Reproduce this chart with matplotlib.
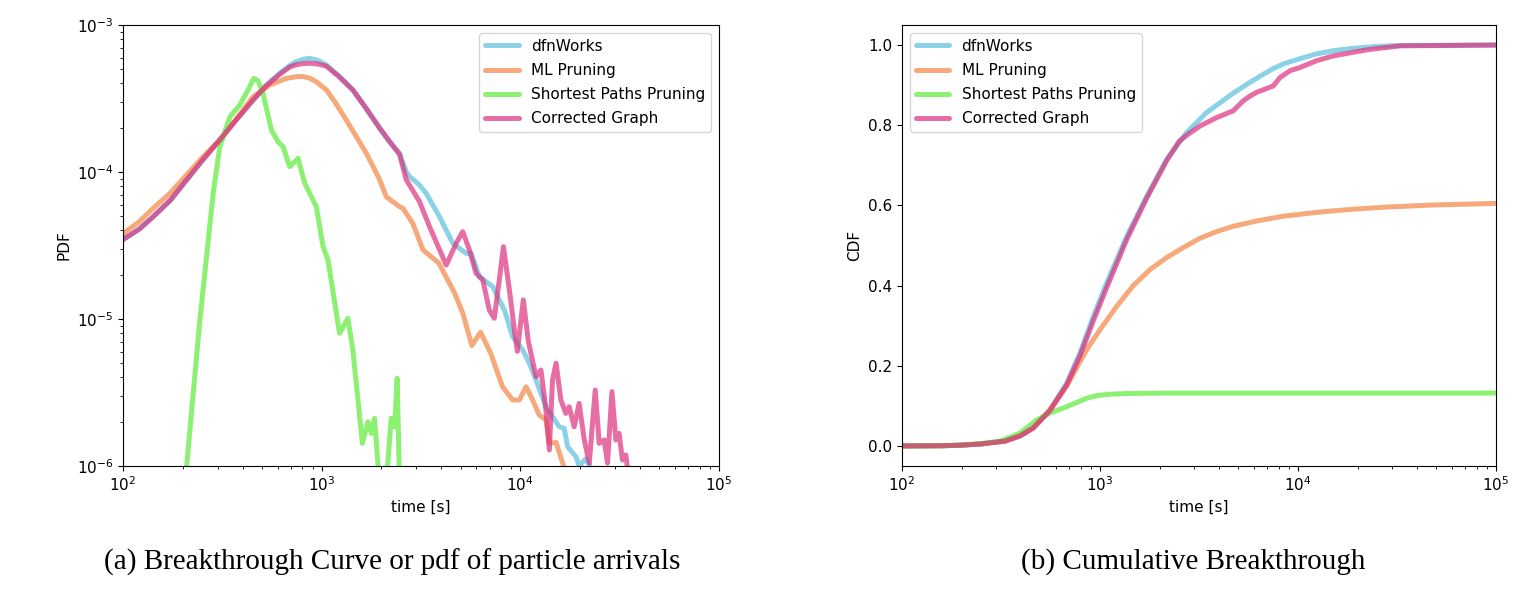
import numpy as np
import matplotlib
matplotlib.use("Agg")
import matplotlib.pyplot as plt

# ---------------- data (log10 values) ----------------
series_names = ["dfnWorks", "ML Pruning", "Shortest Paths Pruning", "Corrected Graph"]

# PDF panel: log10(time [s]) and log10(PDF)
pdf_dfn_lt = [2.0, 2.08, 2.152, 2.24, 2.32, 2.40, 2.487, 2.57, 2.655, 2.72, 2.789, 2.84, 2.873, 2.91, 2.94,
              2.98, 3.024, 3.09, 3.157, 3.22, 3.291, 3.34, 3.392,
              3.426, 3.442, 3.492, 3.526, 3.593, 3.66, 3.727, 3.752, 3.794, 3.861, 3.886, 3.92,
              3.961, 4.012, 4.045, 4.079, 4.129, 4.162, 4.196, 4.221, 4.238, 4.28, 4.296, 4.33,
              4.37, 4.40]
pdf_dfn_lp = [-4.46, -4.39, -4.304, -4.19, -4.054, -3.92, -3.782, -3.645, -3.51, -3.41, -3.329, -3.275, -3.249, -3.232, -3.227,
              -3.24, -3.272, -3.35, -3.442, -3.56, -3.70, -3.79, -3.873,
              -4.00, -4.03, -4.088, -4.145, -4.304, -4.485, -4.553, -4.553, -4.712, -4.78, -4.85, -4.939,
              -5.12, -5.211, -5.301, -5.415, -5.597, -5.665, -5.733, -5.744, -5.869, -5.937, -6.0, -5.95,
              -6.05, -6.2]

pdf_ml_lt = [2.0, 2.08, 2.152, 2.24, 2.32, 2.40, 2.487, 2.57, 2.655, 2.739, 2.823, 2.87, 2.906, 2.94, 2.973, 3.024,
             3.07, 3.124, 3.225,
             3.291, 3.325, 3.392, 3.409, 3.459, 3.51, 3.59, 3.67, 3.71, 3.756, 3.80, 3.85,
             3.91, 3.961, 3.995, 4.029, 4.062, 4.095, 4.129, 4.146, 4.18, 4.213, 4.24]
pdf_ml_lp = [-4.42, -4.34, -4.247, -4.14, -4.02, -3.90, -3.782, -3.64, -3.488, -3.408, -3.363, -3.352, -3.350, -3.362, -3.386, -3.442,
             -3.53, -3.646, -3.873,
             -4.05, -4.168, -4.236, -4.247, -4.35, -4.53, -4.62, -4.825, -4.96, -5.18, -5.09, -5.23,
             -5.46, -5.551, -5.551, -5.461, -5.551, -5.653, -5.687, -5.845, -5.84, -5.98, -6.1]

pdf_sp_lt = [2.31, 2.320, 2.387, 2.454, 2.487, 2.538, 2.588, 2.63, 2.658, 2.68, 2.705, 2.747, 2.780, 2.806,
             2.839, 2.881, 2.915, 2.973, 3.007, 3.032, 3.090, 3.132, 3.157, 3.205, 3.233, 3.250,
             3.266, 3.283, 3.30, 3.317, 3.333, 3.350, 3.367, 3.380, 3.395]
pdf_sp_lp = [-6.3, -6.005, -5.007, -4.145, -3.828, -3.624, -3.544, -3.44, -3.363, -3.38, -3.465, -3.714, -3.794, -3.828,
             -3.964, -3.907, -4.077, -4.236, -4.508, -4.599, -5.097, -4.995, -5.211, -5.846, -5.699, -5.778,
             -5.676, -5.982, -6.2, -6.1, -5.98, -5.676, -5.733, -5.403, -6.3]

pdf_cg_lt = [2.0, 2.08, 2.152, 2.24, 2.32, 2.40, 2.487, 2.57, 2.655, 2.72, 2.789, 2.84, 2.873, 2.91, 2.94,
             2.98, 3.024, 3.09, 3.157, 3.22, 3.291, 3.34, 3.392,
             3.426, 3.492, 3.543, 3.627, 3.677, 3.71, 3.744, 3.777, 3.811, 3.844, 3.869, 3.894,
             3.915, 3.945, 3.97, 3.985, 4.015, 4.04, 4.079, 4.104, 4.129, 4.146, 4.162, 4.18,
             4.204, 4.229, 4.246, 4.271, 4.296, 4.322, 4.347, 4.377, 4.397, 4.422, 4.439, 4.461,
             4.481, 4.497, 4.514, 4.531, 4.548]
pdf_cg_lp = [-4.46, -4.39, -4.304, -4.19, -4.054, -3.92, -3.782, -3.645, -3.51, -3.415, -3.335, -3.285, -3.27, -3.262, -3.26,
             -3.265, -3.28, -3.355, -3.442, -3.56, -3.70, -3.79, -3.88,
             -4.054, -4.20, -4.372, -4.633, -4.485, -4.406, -4.531, -4.689, -4.735, -4.939, -4.995, -4.735,
             -4.508, -4.803, -5.075, -5.22, -4.87, -5.15, -5.392, -5.347, -5.619, -5.891, -5.415, -5.301,
             -5.551, -5.642, -5.597, -5.733, -5.574, -5.823, -5.98, -5.483, -5.846, -5.823, -5.98, -5.494,
             -5.823, -5.778, -5.959, -5.925, -6.1]

# CDF panel: log10(time [s]) and CDF
cdf_dfn_lt = [2.0, 2.2, 2.3, 2.4, 2.45, 2.52, 2.596, 2.663, 2.747, 2.832, 2.899, 2.966, 3.034,
              3.135, 3.236, 3.337, 3.438, 3.539, 3.673, 3.758, 3.808, 3.87, 3.926, 4.01, 4.094, 4.18, 4.263,
              4.38, 4.515, 5.0]
cdf_dfn_v = [0.0, 0.0005, 0.002, 0.005, 0.008, 0.012, 0.025, 0.045, 0.09, 0.157, 0.232, 0.323, 0.407,
             0.523, 0.623, 0.715, 0.782, 0.832, 0.88, 0.907, 0.922, 0.94, 0.953, 0.966, 0.978, 0.986, 0.991,
             0.996, 0.999, 1.0]

cdf_ml_lt = [2.0, 2.2, 2.3, 2.4, 2.45, 2.52, 2.596, 2.663, 2.747, 2.832, 2.899, 2.933, 3.0,
             3.084, 3.168, 3.253, 3.337, 3.421, 3.505, 3.59, 3.673, 3.80, 3.926, 4.10, 4.263, 4.45, 4.684, 5.0]
cdf_ml_v = [0.0, 0.0005, 0.002, 0.005, 0.008, 0.012, 0.025, 0.045, 0.09, 0.15, 0.21, 0.24, 0.29,
            0.348, 0.40, 0.44, 0.47, 0.495, 0.518, 0.535, 0.548, 0.562, 0.573, 0.583, 0.59, 0.596, 0.601, 0.605]

cdf_sp_lt = [2.0, 2.2, 2.3, 2.4, 2.495, 2.596, 2.68, 2.747, 2.832, 2.933, 2.99, 3.05, 3.15, 3.34, 5.0]
cdf_sp_v = [0.0, 0.0005, 0.002, 0.006, 0.012, 0.032, 0.065, 0.082, 0.098, 0.119, 0.126, 0.129, 0.131, 0.132, 0.132]

cdf_cg_lt = [2.0, 2.2, 2.3, 2.4, 2.45, 2.52, 2.596, 2.663, 2.747, 2.832, 2.899, 2.966, 3.034,
             3.135, 3.236, 3.337, 3.40, 3.438, 3.505, 3.589, 3.673, 3.724, 3.758, 3.791, 3.875,
             3.909, 3.96, 4.01, 4.094, 4.178, 4.347, 4.515, 5.0]
cdf_cg_v = [0.0, 0.0005, 0.002, 0.005, 0.008, 0.012, 0.025, 0.045, 0.088, 0.152, 0.225, 0.312, 0.395,
            0.515, 0.618, 0.712, 0.76, 0.775, 0.798, 0.819, 0.836, 0.861, 0.873, 0.882, 0.898,
            0.919, 0.936, 0.944, 0.961, 0.973, 0.988, 0.998, 1.0]

x_ticks = [1e2, 1e3, 1e4, 1e5]
cdf_yticks = [0.0, 0.2, 0.4, 0.6, 0.8, 1.0]
captions = ["(a) Breakthrough Curve or pdf of particle arrivals", "(b) Cumulative Breakthrough"]

# ---------------- styling ----------------
colors = ["#5bc0de", "#f38645", "#5bea37", "#de307e"]
alpha = 0.7
lw = 3.6

fig = plt.figure(figsize=(15.24, 5.92), dpi=100)
axL = fig.add_axes([123 / 1524, 126 / 592, 596 / 1524, 441 / 592])
axR = fig.add_axes([902 / 1524, 126 / 592, 594 / 1524, 441 / 592])

pdf_sets = [(pdf_dfn_lt, pdf_dfn_lp), (pdf_ml_lt, pdf_ml_lp), (pdf_sp_lt, pdf_sp_lp), (pdf_cg_lt, pdf_cg_lp)]
for (lt, lp), name, c in zip(pdf_sets, series_names, colors):
    axL.plot(10 ** np.array(lt), 10 ** np.array(lp), color=c, alpha=alpha, lw=lw, label=name,
             solid_joinstyle="round", solid_capstyle="round")
axL.set_xscale("log")
axL.set_yscale("log")
axL.set_xlim(1e2, 1e5)
axL.set_ylim(1e-6, 1e-3)
axL.set_xticks(x_ticks)
axL.set_xlabel("time [s]", fontsize=11)
axL.set_ylabel("PDF", fontsize=11)
axL.tick_params(labelsize=11)
axL.legend(loc="upper right", fontsize=11, labelspacing=0.6, handlelength=2.2)

cdf_sets = [(cdf_dfn_lt, cdf_dfn_v), (cdf_ml_lt, cdf_ml_v), (cdf_sp_lt, cdf_sp_v), (cdf_cg_lt, cdf_cg_v)]
for (lt, v), name, c in zip(cdf_sets, series_names, colors):
    axR.plot(10 ** np.array(lt), v, color=c, alpha=alpha, lw=lw, label=name,
             solid_joinstyle="round", solid_capstyle="round")
axR.set_xscale("log")
axR.set_xlim(1e2, 1e5)
axR.set_ylim(-0.05, 1.05)
axR.set_xticks(x_ticks)
axR.set_yticks(cdf_yticks)
axR.set_xlabel("time [s]", fontsize=11)
axR.set_ylabel("CDF", fontsize=11)
axR.tick_params(labelsize=11)
axR.legend(loc="upper left", fontsize=11, labelspacing=0.6, handlelength=2.2)

fig.text(392 / 1524, 1 - 562 / 592, captions[0], ha="center", va="center",
         family="Liberation Serif", fontsize=21)
fig.text(1193 / 1524, 1 - 562 / 592, captions[1], ha="center", va="center",
         family="Liberation Serif", fontsize=21)

fig.savefig("out.png", dpi=100)
